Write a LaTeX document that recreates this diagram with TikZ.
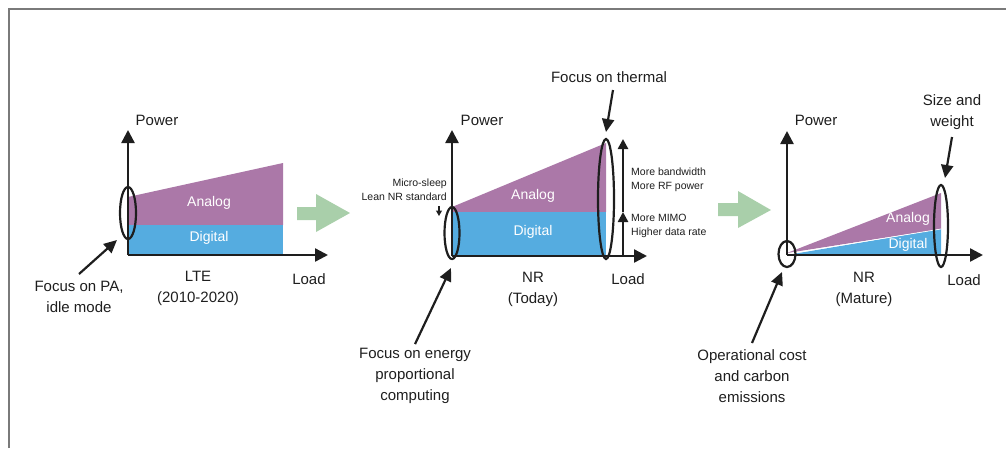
\documentclass[tikz,border=0pt]{standalone}
\usepackage{fontspec}
\setmainfont{Liberation Sans}
\usetikzlibrary{arrows.meta}
\definecolor{analog}{HTML}{AB78A8}
\definecolor{digital}{HTML}{55ACE0}
\definecolor{stepgreen}{HTML}{A9CFAA}
\definecolor{ink}{HTML}{1E1E1E}
\definecolor{framegray}{HTML}{7A7A7A}
\begin{document}
\begin{tikzpicture}[x=1pt,y=-1pt,
  lbl/.style={text=ink,font=\fontsize{15}{21}\selectfont,align=center,inner sep=0pt},
  small/.style={text=ink,font=\fontsize{10.5}{14}\selectfont,inner sep=0pt},
  area/.style={text=white,font=\fontsize{14}{17}\selectfont,inner sep=0pt},
  axis/.style={draw=ink,line width=2.4pt,-{Triangle[length=13pt,width=13pt]}},
  pointer/.style={draw=ink,line width=2.2pt,-{Triangle[length=13pt,width=12pt]}},
  growth/.style={draw=ink,line width=2.6pt,-{Triangle[length=10pt,width=10pt]}},
  ring/.style={draw=ink,line width=2.2pt},
  stage/.style={fill=stepgreen,draw=none}]
\useasboundingbox (0,0) rectangle (1006,448);
% outer frame (open to the right and bottom)
\draw[framegray,line width=1.6pt] (9,448) -- (9,9) -- (1006,9);

% ---------- LTE ----------
\coordinate (o1) at (128,255);
\coordinate (y1) at (128,130);
\coordinate (x1) at (328,255);
\fill[analog] (128,197) -- (283,163) -- (283,225) -- (128,225) -- cycle;
\fill[digital] (128,225) -- (283,225) -- (283,255) -- (128,255) -- cycle;
\draw[axis] (o1) -- (y1);
\draw[axis] (o1) -- (x1);
\draw[ring] (128,213) ellipse [x radius=8pt,y radius=26pt];
\coordinate (r1) at (117,240);
\node[area] (an1) at (209,203) {Analog};
\node[area] (dg1) at (209,238) {Digital};
\node[lbl] (pw1) at (157,120) {Power};
\node[lbl] (ld1) at (309,279) {Load};
\node[lbl] (lte) at (198,288) {LTE\\(2010-2020)};
\node[lbl] (fpa) at (79,297) {Focus on PA,\\idle mode};
\draw[pointer] (79,274) -- (r1);

% stage arrow
\fill[stage] (297,207) -- (316,207) -- (316,194) -- (350,213) -- (316,232) -- (316,220) -- (297,220) -- cycle;

% ---------- NR today ----------
\coordinate (o2) at (452,256);
\coordinate (y2) at (452,130);
\coordinate (x2) at (647,256);
\fill[analog] (452,207) -- (606,143) -- (606,212) -- (452,212) -- cycle;
\fill[digital] (452,212) -- (606,212) -- (606,256) -- (452,256) -- cycle;
\draw[axis] (o2) -- (y2);
\draw[axis] (o2) -- (x2);
\draw[ring] (452,233) ellipse [x radius=7.5pt,y radius=26pt];
\draw[ring] (606,199) ellipse [x radius=8pt,y radius=60pt];
\coordinate (r2a) at (451,268);
\coordinate (r2b) at (606,132);
\node[area] (an2) at (533,196) {Analog};
\node[area] (dg2) at (533,232) {Digital};
\node[lbl] (pw2) at (482,120) {Power};
\node[lbl] (ld2) at (628,279) {Load};
\node[lbl] (nr2) at (533,289) {NR\\(Today)};
\node[lbl] (fth) at (609,77) {Focus on thermal};
\node[lbl] (fen) at (415,376) {Focus on energy\\proportional\\computing};
\draw[pointer] (fen.north) ++(0,-4) coordinate (fenp) (fenp) -- (r2a);
\draw[pointer] (613,90) -- (r2b);
% micro-sleep note
\node[small,anchor=east,align=right] (msl) at (447,190) {Micro-sleep\\Lean NR standard};
\coordinate (ms1) at (439,206);
\coordinate (ms2) at (439,216);
\draw[draw=ink,line width=1.1pt,-{Triangle[length=5.5pt,width=6pt]}] (ms1) -- (ms2);
% growth arrow
\coordinate (g0) at (623,256);
\coordinate (g1) at (623,212);
\coordinate (g2) at (623,139);
\draw[growth] (g0) -- (g1);
\draw[growth] (g1) -- (g2);
\node[small,anchor=west,align=left] (bw) at (631,180) {More bandwidth\\More RF power};
\node[small,anchor=west,align=left] (mm) at (631,226) {More MIMO\\Higher data rate};

% stage arrow
\fill[stage] (718,203) -- (738,203) -- (738,191) -- (771,210) -- (738,228) -- (738,216) -- (718,216) -- cycle;

% ---------- NR mature ----------
\coordinate (o3) at (787,255);
\coordinate (y3) at (787,131);
\coordinate (x3) at (983,255);
\fill[analog] (787,253) -- (941,193) -- (941,229) -- cycle;
\fill[digital] (787,255) -- (941,229) -- (941,255) -- cycle;
\draw[white,line width=0.7pt] (787,254) -- (941,229);
\draw[axis] (o3) -- (y3);
\draw[axis] (o3) -- (x3);
\draw[ring] (787,254) ellipse [x radius=8.5pt,y radius=13pt];
\draw[ring] (941,226) ellipse [x radius=7pt,y radius=41pt];
\coordinate (r3a) at (782,272);
\coordinate (r3b) at (945,178);
\node[area] (an3) at (908,219) {Analog};
\node[area] (dg3) at (908,245) {Digital};
\node[lbl] (pw3) at (816,120) {Power};
\node[lbl] (ld3) at (964,280) {Load};
\node[lbl] (nr3) at (864,289) {NR\\(Mature)};
\node[lbl] (sw) at (952,112) {Size and\\weight};
\node[lbl] (opc) at (752,376) {Operational cost\\and carbon\\emissions};
\draw[pointer] (952,137) -- (r3b);
\draw[pointer] (752,343) -- (r3a);
\end{tikzpicture}
\end{document}
